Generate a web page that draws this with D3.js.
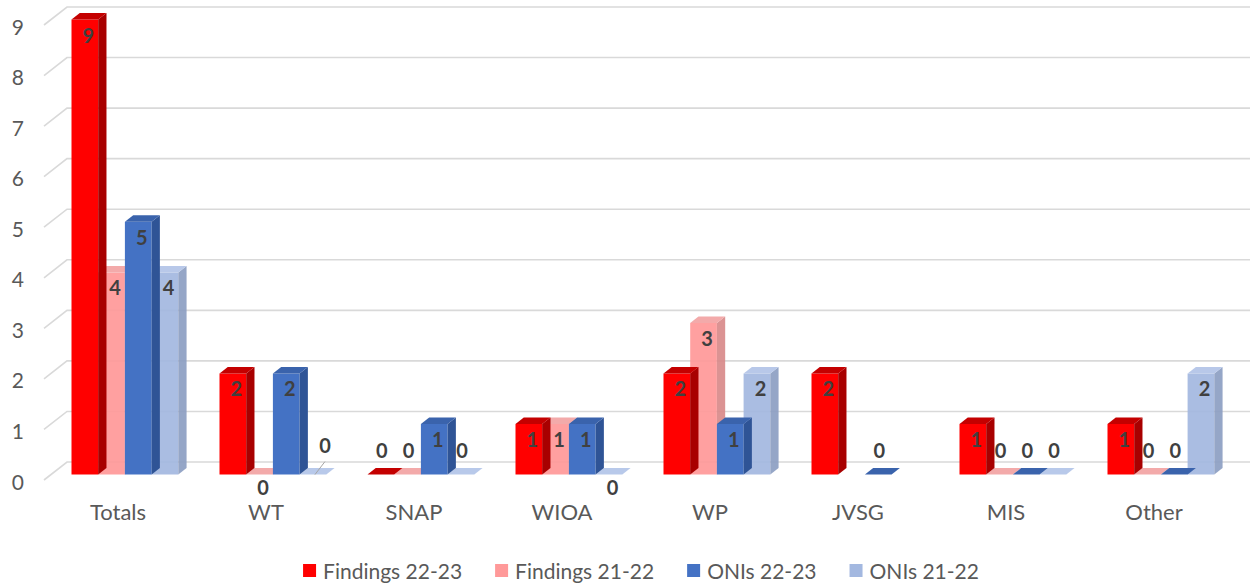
<!DOCTYPE html>
<html>
<head>
<meta charset="utf-8">
<script src="https://cdn.jsdelivr.net/npm/d3@7"></script>
<style>
  html, body { margin: 0; padding: 0; background: #fff; }
  svg { display: block; font-family: Lato, "Noto Sans", sans-serif; }
</style>
</head>
<body>
<svg id="chart" width="1250" height="583"></svg>
<script>
// ---- data ----
const categories = ["Totals", "WT", "SNAP", "WIOA", "WP", "JVSG", "MIS", "Other"];
const seriesNames = ["Findings 22-23", "Findings 21-22", "ONIs 22-23", "ONIs 21-22"];
const findings2223 = [9, 2, 0, 1, 2, 2, 1, 1];
const findings2122 = [4, 0, 0, 1, 3, null, 0, 0];
const onis2223     = [5, 2, 1, 1, 1, 0, 0, 0];
const onis2122     = [4, 0, 0, 0, 2, null, 0, 2];
const yTicks = [0, 1, 2, 3, 4, 5, 6, 7, 8, 9];

const seriesValues = [findings2223, findings2122, onis2223, onis2122];

// face colours per series: front, side, top
const palette = [
  { front: "#FF0000", side: "#A80000", top: "#C40000", opacity: 1 },
  { front: "#FF9999", side: "#D98A8A", top: "#F2A3A3", opacity: 0.92 },
  { front: "#4472C4", side: "#2F5496", top: "#3A63AC", opacity: 1 },
  { front: "#A3B8E0", side: "#8D9FC3", top: "#B2C4E8", opacity: 0.92 }
];
const legendColors = ["#FF0000", "#FF9999", "#4472C4", "#A3B8E0"];

// ---- geometry ----
const svg = d3.select("#chart");
const DX = 23, DY = 18;            // full depth of the floor / side wall
const zFront = 0.30, zBack = 0.66; // depth span of the columns
const plotLeft = 44, plotRight = 1228;

const x = d3.scaleBand().domain(categories).range([plotLeft, plotRight]).padding(0);
const y = d3.scaleLinear().domain([0, 9]).range([480, 25]);
const groupHalf = 53.4;

// project a point at depth z (0 = front, 1 = back)
const P = (px, py, z) => [px + z * DX, py - z * DY];
const poly = pts => "M" + pts.map(p => p.join(",")).join("L") + "Z";

// ---- gridlines on side wall and back wall ----
const grid = svg.append("g");
yTicks.forEach(t => {
  const a = P(plotLeft, y(t), 0), b = P(plotLeft, y(t), 1);
  grid.append("path")
    .attr("d", `M${a}L${b}L1250,${b[1]}`)
    .attr("fill", "none")
    .attr("stroke", "#D9D9D9")
    .attr("stroke-width", 1.6);
});

// ---- y axis labels ----
svg.append("g").selectAll("text").data(yTicks).join("text")
  .attr("x", 24)
  .attr("y", d => y(d) + 1)
  .attr("text-anchor", "end")
  .attr("dominant-baseline", "central")
  .attr("font-size", 21)
  .attr("fill", "#595959")
  .text(d => d);

// ---- category labels ----
svg.append("g").selectAll("text").data(categories).join("text")
  .attr("x", d => x(d) + x.bandwidth() / 2)
  .attr("y", 511)
  .attr("text-anchor", "middle")
  .attr("dominant-baseline", "central")
  .attr("font-size", 22)
  .attr("fill", "#595959")
  .text(d => d);

// ---- columns ----
const inner = d3.scaleBand().domain(d3.range(seriesNames.length));
const drawOrder = [1, 3, 0, 2]; // lighter columns sit behind the darker ones
const bars = svg.append("g");
const labels = [];

// zero labels that sit below the floor, or lifted with a leader line
const zeroBelow = new Set(["WT|1", "WIOA|3"]);
const zeroLeader = new Set(["WT|3"]);

categories.forEach((cat, ci) => {
  const cx = x(cat) + x.bandwidth() / 2;
  inner.range([cx - groupHalf, cx + groupHalf]);
  const w = inner.bandwidth();
  drawOrder.forEach(si => {
    const v = seriesValues[si][ci];
    if (v === null || v === undefined) return;
    const c = palette[si];
    const xl = inner(si), xr = xl + w;
    const y0 = y(0), yv = y(v);
    const g = bars.append("g").attr("opacity", c.opacity);
    if (v > 0) {
      g.append("path").attr("fill", c.front)
        .attr("d", poly([P(xl, yv, zFront), P(xr, yv, zFront), P(xr, y0, zFront), P(xl, y0, zFront)]));
      g.append("path").attr("fill", c.side)
        .attr("d", poly([P(xr, yv, zFront), P(xr, yv, zBack), P(xr, y0, zBack), P(xr, y0, zFront)]));
    }
    g.append("path").attr("fill", c.top)
      .attr("d", poly([P(xl, yv, zFront), P(xr, yv, zFront), P(xr, yv, zBack), P(xl, yv, zBack)]));

    const mid = P((xl + xr) / 2, yv, zFront);
    const key = cat + "|" + si;
    if (v > 0) {
      labels.push({ x: mid[0] + 3.5, y: mid[1] + 15, v });
    } else if (zeroBelow.has(key)) {
      labels.push({ x: mid[0] + 3.5, y: y0 + 7, v });
    } else if (zeroLeader.has(key)) {
      labels.push({ x: mid[0] + 12, y: y0 - 35, v, leader: [[mid[0] + 2, mid[1]], [mid[0] + 12, mid[1] - 13]] });
    } else {
      labels.push({ x: mid[0] + 1, y: y0 - 30, v });
    }
  });
});

// ---- data labels ----
const lg = svg.append("g");
labels.forEach(d => {
  if (d.leader) {
    lg.append("path")
      .attr("d", `M${d.leader[0]}L${d.leader[1]}`)
      .attr("stroke", "#A6A6A6").attr("stroke-width", 1).attr("fill", "none");
  }
  lg.append("text")
    .attr("x", d.x).attr("y", d.y)
    .attr("text-anchor", "middle")
    .attr("dominant-baseline", "central")
    .attr("font-size", 20)
    .attr("font-weight", "bold")
    .attr("fill", "#404040")
    .text(d.v);
});

// ---- legend ----
const legend = svg.append("g");
const swatch = 13, swatchGap = 7, itemGap = 33;
let lx = 0;
seriesNames.forEach((name, i) => {
  const item = legend.append("g").attr("transform", `translate(${lx},0)`);
  item.append("rect").attr("x", 0).attr("y", -swatch / 2).attr("width", swatch).attr("height", swatch)
    .attr("fill", legendColors[i]);
  const t = item.append("text").attr("x", swatch + swatchGap).attr("y", 0)
    .attr("dominant-baseline", "central")
    .attr("font-size", 21)
    .attr("fill", "#595959")
    .text(name);
  lx += swatch + swatchGap + t.node().getComputedTextLength() + itemGap;
});
const legendWidth = lx - itemGap;
legend.attr("transform", `translate(${641 - legendWidth / 2},570.5)`);
</script>
</body>
</html>
